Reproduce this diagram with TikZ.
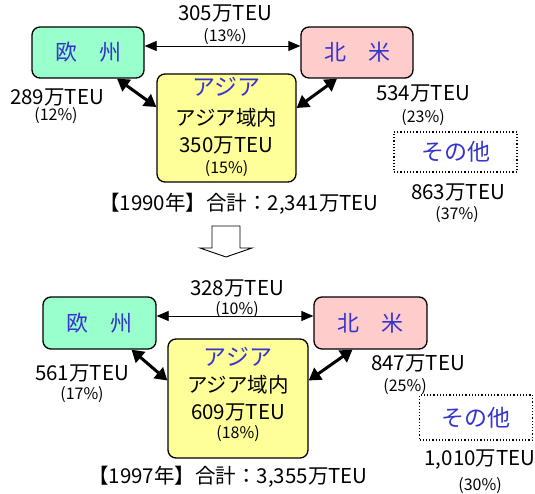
\documentclass[tikz,border=0pt]{standalone}
\usepackage{fontspec}
\setmainfont{Noto Sans CJK JP}
\usetikzlibrary{arrows.meta}

\definecolor{euro}{HTML}{99FFCC}
\definecolor{amer}{HTML}{FFCCCC}
\definecolor{asiay}{HTML}{FFFF99}
\definecolor{lblue}{HTML}{3535CC}

\newcommand*{\valsz}{\fontsize{20.5}{22}\selectfont}
\newcommand*{\pctsz}{\fontsize{16}{18}\selectfont}
\newcommand*{\regsz}{\fontsize{22}{24}\selectfont}

\begin{document}
\begin{tikzpicture}
[
	x=1pt,y=-1pt,
	region/.style={draw,line width=1.3pt,rounded corners=8pt,minimum width=112pt,minimum height=51pt,inner sep=0pt},
	others/.style={draw,dotted,line width=1.2pt,inner sep=0pt},
	reglabel/.style={inner sep=0pt,text=lblue,font=\regsz},
	val/.style={inner sep=0pt,font=\valsz},
	pct/.style={inner sep=0pt,font=\pctsz},
	thinarr/.style={{Triangle[length=12pt,width=10pt]}-{Triangle[length=12pt,width=10pt]},line width=0.8pt},
	thickarr/.style={{Triangle[length=12pt,width=14pt]}-{Triangle[length=12pt,width=14pt]},line width=3pt}
]
	\useasboundingbox (0,0) rectangle (535,494);

	% 1990
	\node[region,fill=euro] (eu1) at (88,52.5) {};
	\node[region,fill=amer] (na1) at (357,52.5) {};
	\node[region,fill=asiay,minimum width=139pt,minimum height=108pt] (asia1) at (226.5,128) {};
	\node[reglabel] (eu1t) at (eu1) {欧　州};
	\node[reglabel] (na1t) at (na1) {北　米};
	\node[reglabel,font=\fontsize{23}{25}\selectfont] (asia1t) at (226.5,87) {アジア};
	\node[val] (asia1a) at (226.5,118) {アジア域内};
	\node[val] (asia1b) at (226.5,146) {350万TEU};
	\node[pct] (asia1c) at (226.5,169) {(15\%)};
	\node[others,minimum width=123pt,minimum height=40pt] (ot1) at (455.5,152) {};
	\node[reglabel,font=\fontsize{23}{25}\selectfont] (ot1t) at (ot1) {その他};

	\draw[thinarr] ([yshift=6.5pt]eu1.east) -- ([yshift=6.5pt]na1.west);
	\draw[thickarr] ([xshift=29pt]eu1.south) -- ([yshift=21pt]asia1.west);
	\draw[thickarr] ([xshift=-20pt]na1.south) -- ([yshift=20pt]asia1.east);

	\node[val] (eunav1) at (225,14) {305万TEU};
	\node[pct] (eunap1) at (225,37) {(13\%)};
	\node[val] (euv1) at (57,98) {289万TEU};
	\node[pct] (eup1) at (56,116) {(12\%)};
	\node[val] (nav1) at (423,94) {534万TEU};
	\node[pct] (nap1) at (423,118) {(23\%)};
	\node[val] (otv1) at (458,193) {863万TEU};
	\node[pct] (otp1) at (457,215) {(37\%)};
	\node[val] (sum1) at (239,204) {【1990年】合計：2,341万TEU};

	% down arrow
	\draw[line width=0.9pt,fill=white] (212,226) -- (240,226) -- (240,248) -- (252,248)
		-- (226,257) -- (200,248) -- (212,248) -- cycle;

	% 1997
	\node[region,fill=euro,minimum width=113pt,minimum height=52pt] (eu2) at (99.5,323) {};
	\node[region,fill=amer,minimum width=113pt,minimum height=52pt] (na2) at (370.5,323) {};
	\node[region,fill=asiay,minimum width=140pt,minimum height=119pt] (asia2) at (238,398.5) {};
	\node[reglabel] (eu2t) at (eu2) {欧　州};
	\node[reglabel] (na2t) at (na2) {北　米};
	\node[reglabel,font=\fontsize{23}{25}\selectfont] (asia2t) at (238,357) {アジア};
	\node[val] (asia2a) at (238,385) {アジア域内};
	\node[val] (asia2b) at (238,412) {609万TEU};
	\node[pct] (asia2c) at (238,434) {(18\%)};
	\node[others,minimum width=113pt,minimum height=45pt] (ot2) at (476,417.5) {};
	\node[reglabel,font=\fontsize{23}{25}\selectfont] (ot2t) at (ot2) {その他};

	\draw[thinarr] ([yshift=7pt]eu2.east) -- ([yshift=7pt]na2.west);
	\draw[thickarr] ([xshift=32pt]eu2.south) -- ([yshift=18pt]asia2.west);
	\draw[thickarr] ([xshift=-18pt]na2.south) -- ([yshift=18pt]asia2.east);

	\node[val] (eunav2) at (237,288) {328万TEU};
	\node[pct] (eunap2) at (237,310) {(10\%)};
	\node[val] (euv2) at (82,373) {561万TEU};
	\node[pct] (eup2) at (82,395) {(17\%)};
	\node[val] (nav2) at (418,363) {847万TEU};
	\node[pct] (nap2) at (405,387) {(25\%)};
	\node[val] (otv2) at (480,460) {1,010万TEU};
	\node[pct] (otp2) at (480,486) {(30\%)};
	\node[val] (sum2) at (228,477) {【1997年】合計：3,355万TEU};

\end{tikzpicture}
\end{document}
